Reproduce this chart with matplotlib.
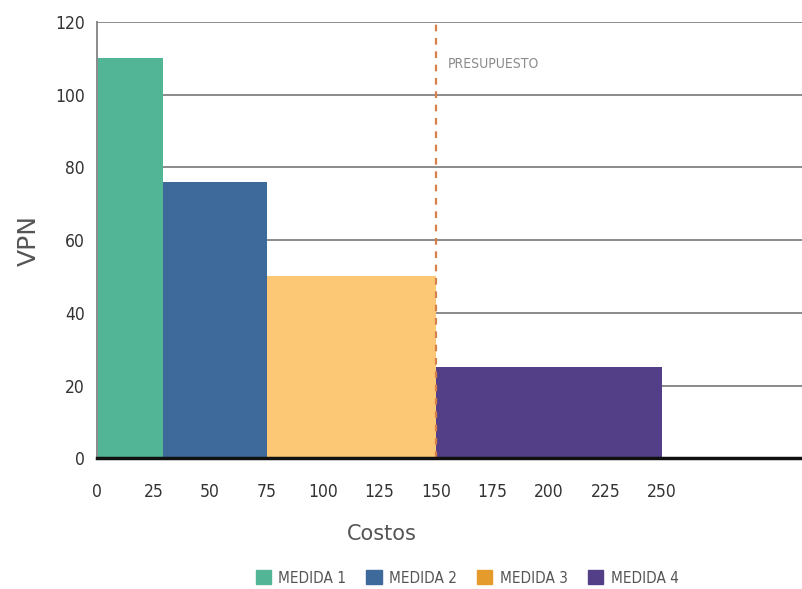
import matplotlib.pyplot as plt
from matplotlib.patches import Patch

# costs (x start and width of each measure) and VPN heights
medidas = ['MEDIDA 1', 'MEDIDA 2', 'MEDIDA 3', 'MEDIDA 4']
inicio = [0, 29, 75, 150]
costo = [29, 46, 75, 100]
vpn = [110, 76, 50, 25]
presupuesto = 150

colores = ['#52b595', '#3d6a9b', '#fcc876', '#523f87']
colores_leyenda = ['#52b595', '#3d6a9b', '#e59a2c', '#523f87']

xticks = [0, 25, 50, 75, 100, 125, 150, 175, 200, 225, 250]
yticks = [0, 20, 40, 60, 80, 100, 120]

plt.rcParams['font.family'] = ['DejaVu Sans']
plt.rcParams['font.stretch'] = 'condensed'

fig = plt.figure(figsize=(8.02, 5.89), dpi=100)
ax = fig.add_axes([0.121, 0.222, 0.879, 0.741])

for y in yticks[1:]:
    ax.axhline(y, color='#8a8a8a', lw=1.4, zorder=1)

ax.bar(inicio, vpn, width=costo, align='edge', color=colores, zorder=2)

ax.axvline(presupuesto, color='#d6804a', lw=1.6, ls=(0, (3, 3)), zorder=3)
ax.text(presupuesto + 5, 108.5, 'PRESUPUESTO', color='#8a8a8a', fontsize=10,
        va='center', ha='left')

ax.set_xlim(0, 312)
ax.set_ylim(0, 120)
ax.set_xticks(xticks)
ax.set_yticks(yticks)
ax.tick_params(length=0, labelsize=12.5, colors='#333333')
ax.tick_params(axis='x', pad=18)
ax.tick_params(axis='y', pad=9)

for s in ['top', 'right']:
    ax.spines[s].set_visible(False)
ax.spines['left'].set_color('#8a8a8a')
ax.spines['left'].set_linewidth(1.4)
ax.spines['bottom'].set_color('#111111')
ax.spines['bottom'].set_linewidth(2.5)
ax.spines['bottom'].set_zorder(4)

ax.set_ylabel('VPN', fontsize=18, color='#555555', fontstretch='normal')
ax.yaxis.set_label_coords(-0.08, 0.5)
ax.set_xlabel('Costos', fontsize=15, color='#555555', fontstretch='normal')
ax.xaxis.set_label_coords(0.404, -0.15)

handles = [Patch(color=c, label=m) for c, m in zip(colores_leyenda, medidas)]
fig.legend(handles=handles, loc='center', ncol=4, frameon=False,
           bbox_to_anchor=(467 / 802, 1 - 578 / 589), fontsize=11,
           handlelength=1.0, handleheight=1.0, columnspacing=1.3,
           handletextpad=0.5, labelcolor='#555555')

fig.savefig('out.png', dpi=100)
